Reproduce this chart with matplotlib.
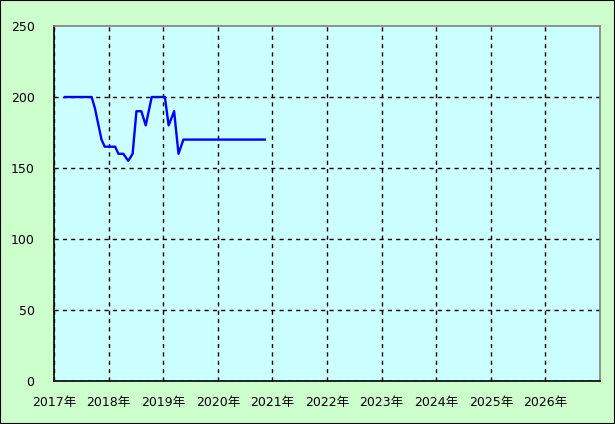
import matplotlib
matplotlib.use("Agg")
import matplotlib.pyplot as plt
from matplotlib.patches import Rectangle

plt.rcParams['font.family'] = ['DejaVu Sans', 'Noto Sans CJK JP']

# data (decimal year, value)
years = [2017.2, 2017.69, 2017.75, 2017.81, 2017.87, 2017.93, 2018.12, 2018.18,
         2018.27, 2018.36, 2018.44, 2018.51, 2018.6, 2018.68, 2018.79, 2019.03,
         2019.1, 2019.2, 2019.28, 2019.37, 2020.86]
values = [200, 200, 192, 181, 170, 165, 165, 160,
          160, 155, 160, 190, 190, 180, 200, 200,
          180, 190, 160, 170, 170]

tick_years = list(range(2017, 2027))
tick_labels = [f"{y}年" for y in tick_years]
y_ticks = [0, 50, 100, 150, 200, 250]

fig = plt.figure(figsize=(6.15, 4.24), dpi=100, facecolor="#CCFFCC")
ax = fig.add_axes([54 / 615, 43 / 424, 546 / 615, 355 / 424])
ax.set_facecolor("#CCFFFF")

ax.plot(years, values, color="#0000FF", linewidth=1.7)

ax.set_xlim(2017, 2027)
ax.set_ylim(0, 250)
ax.set_xticks(tick_years)
ax.set_xticklabels(tick_labels)
ax.set_yticks(y_ticks)
ax.tick_params(axis="both", length=0, labelsize=9, colors="black")
ax.tick_params(axis="x", pad=11)
ax.tick_params(axis="y", pad=14)
ax.grid(True, color="black", linestyle=(0, (3, 3)), linewidth=1)
# no dashed line on top of the grey top border
ax.get_ygridlines()[-1].set_visible(False)

for name, s in ax.spines.items():
    s.set_linewidth(1.2)
    s.set_color("black" if name in ("left", "bottom") else "#808080")

# outer frame round the whole picture
fig.patches.append(Rectangle((0, 0), 1, 1, transform=fig.transFigure,
                             fill=False, edgecolor="black", linewidth=1.5))

fig.savefig("out.png", dpi=100, facecolor=fig.get_facecolor())
